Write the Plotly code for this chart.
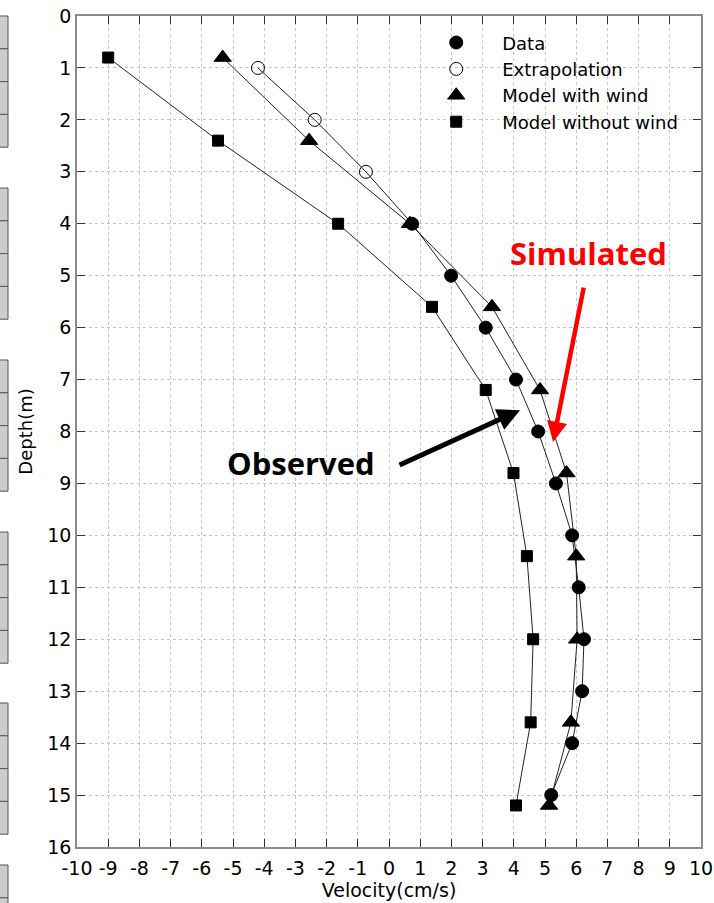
import plotly.graph_objects as go

# ---------------- data ----------------
data_depth = [4, 5, 6, 7, 8, 9, 10, 11, 12, 13, 14, 15]
data_vel = [0.74, 1.99, 3.1, 4.07, 4.78, 5.35, 5.87, 6.08, 6.25, 6.19, 5.87, 5.2]

extrap_depth = [1, 2, 3]
extrap_vel = [-4.2, -2.38, -0.74]

model_depth = [0.8, 2.4, 4.0, 5.6, 7.2, 8.8, 10.4, 12.0, 13.6, 15.2]
wind_vel = [-5.33, -2.56, 0.67, 3.3, 4.84, 5.69, 6.0, 6.03, 5.83, 5.13]
nowind_vel = [-9.0, -5.48, -1.63, 1.38, 3.1, 3.99, 4.42, 4.62, 4.54, 4.07]

x_ticks = list(range(-10, 11))
y_ticks = list(range(0, 17))

FONT = "DejaVu Sans, Liberation Sans, Arial, sans-serif"
LINE = dict(color="#222222", width=1)

W, H = 714, 903
ML, MR, MT, MB = 77, 13, 16, 56
PW, PH = W - ML - MR, H - MT - MB


def px_to_paper(px, py):
    return (px - ML) / PW, 1 - (py - MT) / PH


fig = go.Figure()

# connecting lines (no legend)
fig.add_trace(go.Scatter(x=extrap_vel + [data_vel[0]], y=extrap_depth + [data_depth[0]],
                         mode="lines", line=LINE, showlegend=False, hoverinfo="skip"))
fig.add_trace(go.Scatter(x=data_vel, y=data_depth, mode="lines", line=LINE,
                         showlegend=False, hoverinfo="skip"))
fig.add_trace(go.Scatter(x=wind_vel, y=model_depth, mode="lines", line=LINE,
                         showlegend=False, hoverinfo="skip"))
fig.add_trace(go.Scatter(x=nowind_vel, y=model_depth, mode="lines", line=LINE,
                         showlegend=False, hoverinfo="skip"))

# markers (legend)
fig.add_trace(go.Scatter(x=data_vel, y=data_depth, mode="markers", name="Data",
                         marker=dict(symbol="circle", size=13, color="black",
                                     line=dict(color="black", width=1))))
fig.add_trace(go.Scatter(x=extrap_vel, y=extrap_depth, mode="markers", name="Extrapolation",
                         marker=dict(symbol="circle-open", size=13, color="black",
                                     line=dict(color="black", width=1))))
fig.add_trace(go.Scatter(x=wind_vel, y=model_depth, mode="markers", name="Model with wind",
                         marker=dict(symbol="triangle-up", size=15, color="black",
                                     line=dict(color="black", width=1))))
fig.add_trace(go.Scatter(x=nowind_vel, y=model_depth, mode="markers", name="Model without wind",
                         marker=dict(symbol="square", size=11, color="black",
                                     line=dict(color="black", width=1))))

axis_common = dict(
    showline=True, linecolor="#8a8a8a", linewidth=1.5, mirror="ticks",
    ticks="inside", ticklen=8, tickwidth=1, tickcolor="#333333",
    showgrid=True, gridcolor="#c4c4c4", gridwidth=1, griddash="dot",
    zeroline=False, tickfont=dict(family=FONT, size=19, color="black"),
    automargin=False,
)

fig.update_xaxes(range=[-10, 10], tickvals=x_ticks, ticktext=[str(v) for v in x_ticks],
                 ticklabelstandoff=3,
                 title=dict(text="Velocity(cm/s)", font=dict(family=FONT, size=19, color="black"),
                            standoff=6),
                 **axis_common)
fig.update_yaxes(range=[16, 0], tickvals=y_ticks, ticktext=[str(v) for v in y_ticks],
                 title=dict(text="Depth(m)", font=dict(family=FONT, size=18, color="black"),
                            standoff=10),
                 **axis_common)

# annotations: arrows and labels
fig.add_annotation(x=5.26, y=8.2, ax=6.25, ay=5.2, axref="x", ayref="y", xref="x", yref="y",
                   text="", showarrow=True, arrowhead=2, arrowsize=0.9, arrowwidth=4.5,
                   arrowcolor="#ff0000")
fig.add_annotation(x=4.2, y=7.59, ax=0.29, ay=8.66, axref="x", ayref="y", xref="x", yref="y",
                   text="", showarrow=True, arrowhead=2, arrowsize=0.9, arrowwidth=5,
                   arrowcolor="#000000")
fig.add_annotation(x=6.4, y=4.56, xref="x", yref="y", text="<b>Simulated</b>", showarrow=False,
                   font=dict(family="Open Sans, sans-serif", size=31, color="#ff0000"))
fig.add_annotation(x=-2.82, y=8.6, xref="x", yref="y", text="<b>Observed</b>", showarrow=False,
                   font=dict(family="Open Sans, sans-serif", size=31, color="black"))

# partial grey boxes at the left edge (cropped neighbour panel)
shapes = []
group_tops = [16, 188, 360, 532, 703, 865]
cell_h = 32.8
for top in group_tops:
    for k in range(4):
        y0p = top + k * cell_h
        x0, y0 = px_to_paper(-3, y0p)
        x1, y1 = px_to_paper(8, y0p + cell_h)
        shapes.append(dict(type="rect", xref="paper", yref="paper", x0=x0, x1=x1, y0=y0, y1=y1,
                           fillcolor="#cccccc", line=dict(color="#555555", width=1), layer="above"))
fig.update_layout(shapes=shapes)

fig.update_layout(
    width=W, height=H,
    margin=dict(l=ML, r=MR, t=MT, b=MB, autoexpand=False),
    paper_bgcolor="white", plot_bgcolor="white",
    font=dict(family=FONT, color="black"),
    legend=dict(x=0.534, y=0.990, xanchor="left", yanchor="top",
                bgcolor="rgba(0,0,0,0)", borderwidth=0,
                font=dict(family=FONT, size=18, color="black"),
                tracegroupgap=0, itemwidth=82),
)

fig.write_html("out.html")
